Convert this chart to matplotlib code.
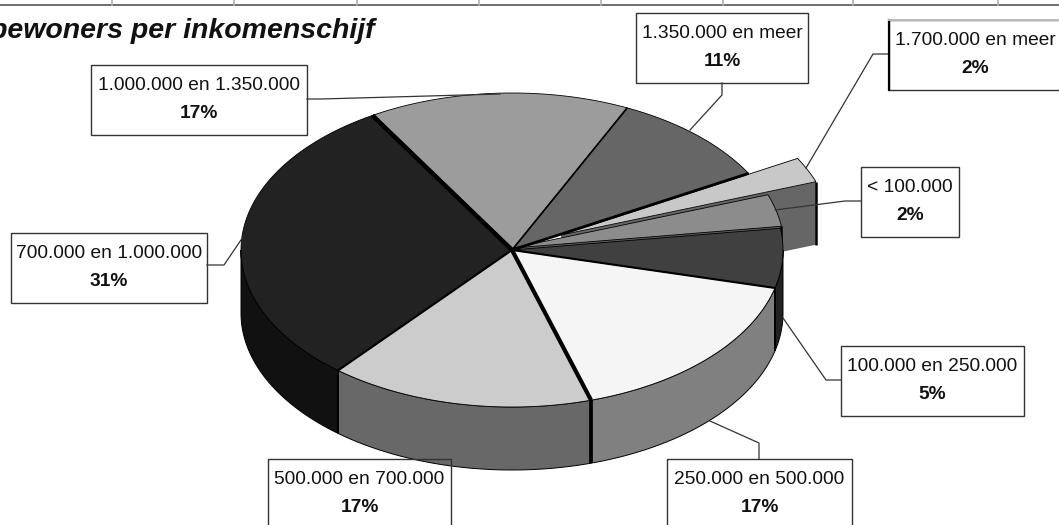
import numpy as np
import matplotlib
matplotlib.use("Agg")
import matplotlib.pyplot as plt
from matplotlib.patches import Polygon, Rectangle

plt.rcParams['font.family'] = ['Liberation Sans', 'DejaVu Sans']

# Data (clockwise from the 1.000.000 en 1.350.000 slice)
categories = ['1.000.000 en 1.350.000', '1.350.000 en meer', '1.700.000 en meer', '< 100.000',
              '100.000 en 250.000', '250.000 en 500.000', '500.000 en 700.000', '700.000 en 1.000.000']
pct_labels = ['17%', '11%', '2%', '2%', '5%', '17%', '17%', '31%']
shares = [15.6, 9.9, 2.6, 3.3, 6.1, 16.4, 15.8, 30.3]
title_text = 'bewoners per inkomenschijf'

# Styles
top_colors = ['#9c9c9c', '#666666', '#c8c8c8', '#8c8c8c', '#404040', '#f5f5f5', '#cccccc', '#222222']
side_colors = ['#4e4e4e', '#333333', '#666666', '#5a5a5a', '#222222', '#808080', '#686868', '#111111']
explode = [(0, 0), (0, 0), (49, -15), (1, -2), (0, 0), (0, 0), (0, 0), (0, 0)]
sep_widths = [1.2, 2.0, 2.0, 1.2, 1.5, 3.0, 1.5, 3.0]   # line at the end of each slice
draw_order = [0, 1, 2, 3, 4, 7, 6, 5]
boxes = [(91, 65, 216, 70), (636, 13, 172, 70), (889, 20, 180, 70), (861, 167, 98, 70),
         (841, 346, 183, 70), (667, 459, 185, 70), (268, 459, 183, 70), (11, 233, 196, 70)]
leaders = [[(307, 99), (321, 99), (500, 94)], [(722, 83), (722, 95), (690, 130)],
           [(889, 54), (873, 54), (806, 168)], [(861, 201), (845, 201), (775, 210)],
           [(841, 380), (826, 380), (783, 318)], [(759, 459), (759, 443), (710, 421)],
           None, [(207, 265), (224, 265), (243, 237)]]
text_x = [199, 722, 975.5, 910, 932.5, 759.5, 359.5, 109]
cell_edges = [112, 234, 357, 479, 601, 723, 853, 998]
CX, CY, RX, RY, DEPTH = 512, 250, 271, 157, 63
START = 121.0

fig = plt.figure(figsize=(10.59, 5.25), dpi=100)
ax = fig.add_axes([0, 0, 1, 1])
ax.set_xlim(0, 1059)
ax.set_ylim(525, 0)
ax.axis('off')

# Spreadsheet cell lines at the top
ax.plot([0, 1059], [5, 5], color='#555555', lw=1.2)
for x in cell_edges:
    ax.plot([x, x], [0, 5], color='#b0b0b0', lw=1.2)


def rim(t, off=(0, 0), z=0):
    t = np.radians(t)
    return np.column_stack([CX + off[0] + RX * np.cos(t), CY + off[1] - RY * np.sin(t) + z])


angles = START - np.cumsum([0] + shares) * 3.6

for i in draw_order:
    t1, t2 = angles[i], angles[i + 1]
    off = explode[i]
    ts = np.linspace(t1, t2, 80)
    apex = np.array([[CX + off[0], CY + off[1]]])
    # Cut face of an exploded slice
    if off != (0, 0):
        outer = rim(np.array([t2]), off)[0]
        quad = np.array([outer, apex[0], apex[0] + [0, DEPTH], outer + [0, DEPTH]])
        ax.add_patch(Polygon(quad, fc=side_colors[i], ec='none'))
        ax.add_patch(Polygon([outer, outer + [0, DEPTH]], closed=False, fc='none', ec='black', lw=1.8))
    # Outer wall of the front half
    lo, hi = max(t2, -180), min(t1, 0)
    if hi > lo:
        ws = np.linspace(hi, lo, 80)
        wall = np.vstack([rim(ws, off), rim(ws[::-1], off, DEPTH)])
        ax.add_patch(Polygon(wall, fc=side_colors[i], ec='black', lw=0.7))
    # Top face
    ax.add_patch(Polygon(np.vstack([apex, rim(ts, off)]), fc=top_colors[i], ec='black', lw=0.6))

# Separators between slices
for i, a in enumerate(angles[1:]):
    if explode[i] != (0, 0):
        continue
    p = rim(np.array([a]))[0]
    ax.plot([CX, p[0]], [CY, p[1]], color='black', lw=sep_widths[i], solid_capstyle='butt')
    if np.sin(np.radians(a)) < 0:
        ax.plot([p[0], p[0]], [p[1], p[1] + DEPTH], color='black', lw=sep_widths[i] * 0.9,
                solid_capstyle='butt')
first = rim(np.array([START]))[0]
ax.plot([CX, first[0]], [CY, first[1]], color='black', lw=3.0, solid_capstyle='butt')

# Label boxes, drawn over the pie without fill
for (x, y, w, h), lead in zip(boxes, leaders):
    ax.add_patch(Rectangle((x, y), w, h, fc='none', ec='#333333', lw=1.0, zorder=3))
    if lead:
        ax.plot(*zip(*lead), color='#333333', lw=0.9, zorder=3)

# The 1.700.000 box has a heavy left edge and a pale top edge
x, y, w, h = boxes[2]
ax.plot([x, x], [y, y + h], color='black', lw=1.6, zorder=4)
ax.plot([x, 1059], [y, y], color='#bbbbbb', lw=1.4, zorder=4)

# Labels
for (x, y, w, h), cx, cat, pct in zip(boxes, text_x, categories, pct_labels):
    ax.text(cx, y + 20.5, cat, ha='center', va='center', fontsize=13.8, color='#111111', zorder=5)
    ax.text(cx, y + 48.5, pct, ha='center', va='center', fontsize=13.8, fontweight='bold',
            color='#111111', zorder=5)

ax.text(375, 31, title_text, ha='right', va='center', fontsize=20.5, fontweight='bold',
        fontstyle='italic', color='#111111')

fig.savefig('out.png', dpi=100)
